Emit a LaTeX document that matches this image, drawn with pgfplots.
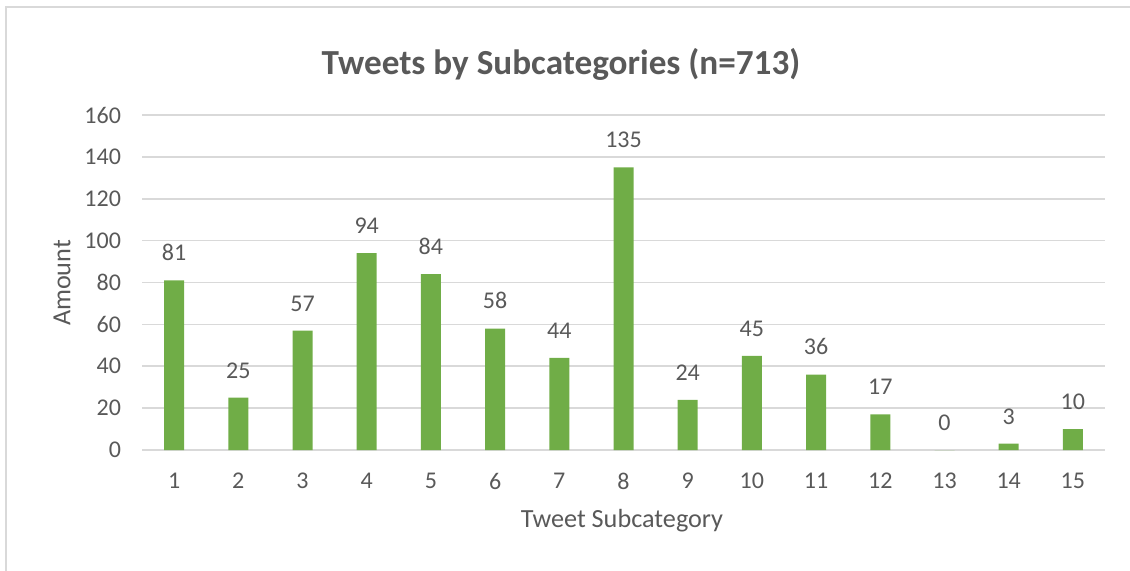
\documentclass[border=0pt]{standalone}
\usepackage{fontspec}
\setmainfont{Carlito}
\usepackage{pgfplots}
\pgfplotsset{compat=1.18}
\definecolor{bargreen}{RGB}{112,173,71}
\definecolor{txtgray}{RGB}{89,89,89}
\definecolor{gridgray}{RGB}{217,217,217}
\definecolor{framegray}{RGB}{217,217,217}

\begin{document}
\begin{tikzpicture}
% page box and chart frame (1px = 0.5pt)
\useasboundingbox (-71pt,-60pt) rectangle (494pt,225pt);
\draw[framegray, line width=1pt] (-68pt,-64pt) rectangle (498pt,221.5pt);

\begin{axis}[
    at={(0,0)}, anchor=south west,
    scale only axis,
    width=481.5pt, height=167.5pt,
    xmin=0.5, xmax=15.5,
    ymin=0, ymax=160,
    xtick={1,...,15},
    ytick={0,20,...,160},
    major tick length=0pt,
    axis line style={draw=none},
    ymajorgrids,
    grid style={gridgray, line width=0.8pt},
    /pgf/number format/assume math mode=true,
    tick label style={font=\fontsize{12}{14}\selectfont, text=txtgray},
    yticklabel style={xshift=-7pt},
    xticklabel style={yshift=-8pt},
    ybar,
    bar width=10pt,
    nodes near coords,
    every node near coord/.append style={font=\fontsize{12}{14}\selectfont, text=txtgray, yshift=6.2pt},
]
\addplot[fill=bargreen, draw=none] coordinates {
    (1,81) (2,25) (3,57) (4,94) (5,84) (6,58) (7,44) (8,135)
    (9,24) (10,45) (11,36) (12,17) (13,0) (14,3) (15,10)
};
\end{axis}

\node[text=txtgray, font=\bfseries\fontsize{17.6}{21}\selectfont] at (209.5pt,193pt) {Tweets by Subcategories (n=713)};
\node[text=txtgray, font=\fontsize{13.1}{15}\selectfont] at (240pt,-35.5pt) {Tweet Subcategory};
\node[text=txtgray, font=\fontsize{13.1}{15}\selectfont, rotate=90] at (-40pt,83.5pt) {Amount};
\end{tikzpicture}
\end{document}
